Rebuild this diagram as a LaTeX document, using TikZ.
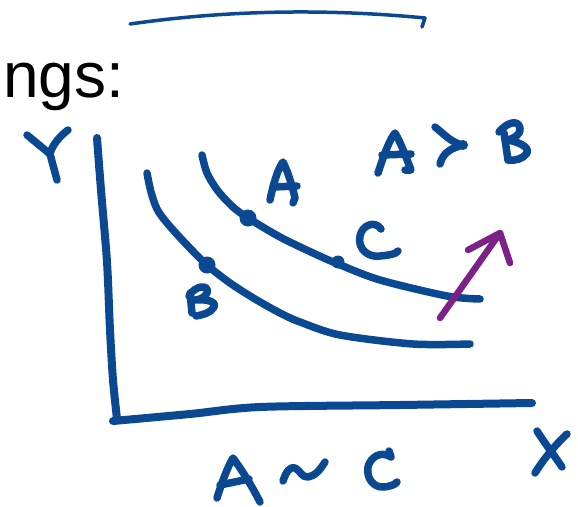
\documentclass[tikz,border=0pt]{standalone}
\usepackage{fontspec}
\setmainfont{Liberation Sans}
\definecolor{inkblue}{RGB}{10,72,145}
\definecolor{inkpurple}{RGB}{125,32,135}
\begin{document}
\begin{tikzpicture}[x=1pt,y=-1pt,
  ink/.style={draw=inkblue,line width=7.5pt,line cap=round,line join=round},
  thinink/.style={draw=inkblue,line width=3.5pt,line cap=round,line join=round},
  purpleink/.style={draw=inkpurple,line width=6.5pt,line cap=round,line join=round},
  dotmark/.style={fill=inkblue}]
\useasboundingbox (0,0) rectangle (578,506);
% header text
\node[anchor=base west,inner sep=0pt,font=\fontsize{64}{70}\selectfont] (title) at (3,97) {ngs:};
% top line
\draw[thinink] (130,24) .. controls (200,14) and (300,6) .. (425,18) -- (422,27);
% axes
\draw[ink,line width=8pt] plot[smooth] coordinates {(97,138) (101,190) (107,262) (110,330) (113,380) (117,419)};
\draw[ink,line width=8pt] plot[smooth] coordinates {(113,421) (190,414) (260,407) (400,405) (532,403)};
% Y label
\draw[ink] (27,135) -- (50,154);
\draw[ink] (68,130) .. controls (60,136) and (52,145) .. (50,154) -- (57,180);
% X label
\draw[ink] (537,431) .. controls (546,445) and (554,455) .. (562,467);
\draw[ink] (567,434) .. controls (555,445) and (543,460) .. (535,473);
% curves
\draw[ink] plot[smooth] coordinates {(202,155) (207,173) (218,191) (233,207) (248,218) (280,237) (313,253) (338,264) (380,280) (447,296) (480,299)};
\draw[ink] plot[smooth] coordinates {(147,173) (151,192) (157,209) (167,223) (186,244) (207,265) (230,283) (255,299) (280,313) (300,322) (340,335) (413,344) (470,344)};
% dots
\fill[dotmark] (248,218) circle (8.5);
\fill[dotmark] (207,265) circle (8.5);
\fill[dotmark] (338,262) circle (6.5);
% label A near upper curve
\draw[ink] (270,200) .. controls (273,185) and (278,168) .. (283,162) .. controls (288,172) and (292,185) .. (295,198) -- (293,203);
\draw[ink] (273,187) -- (297,186);
% label B near lower curve
\draw[ink] (190,293) -- (192,313);
\draw[ink] (189,296) .. controls (195,285) and (210,284) .. (207,293) .. controls (205,298) and (198,300) .. (195,300)
  .. controls (205,299) and (217,301) .. (214,307) .. controls (211,313) and (202,315) .. (196,316);
% label C near upper curve
\draw[ink] (381,229) .. controls (375,220) and (362,225) .. (360,236) .. controls (357,250) and (370,258) .. (380,256) .. controls (390,255) and (396,254) .. (398,251);
% A > B
\draw[ink] (378,173) .. controls (383,158) and (389,140) .. (395,133) .. controls (402,145) and (407,160) .. (411,170) -- (405,170);
\draw[ink] (382,155) -- (411,154);
\draw[ink] (435,127) .. controls (445,135) and (452,143) .. (463,145) .. controls (452,148) and (443,152) .. (440,164);
\fill[dotmark] (463,145) circle (5);
\draw[ink] (504,133) -- (508,160);
\draw[ink] (499,132) .. controls (505,124) and (518,118) .. (520,128) .. controls (521,135) and (513,139) .. (507,140)
  .. controls (515,141) and (530,146) .. (527,153) .. controls (523,159) and (515,161) .. (508,160);
% purple arrow
\draw[purpleink] (440,318) -- (500,233);
\draw[purpleink] (468,250) -- (500,233) -- (510,263);
% A ~ C
\draw[ink] (217,498) .. controls (222,482) and (228,466) .. (233,458) .. controls (242,470) and (253,488) .. (260,502);
\draw[ink] (220,485) -- (249,479);
\draw[ink] (283,481) .. controls (286,472) and (290,466) .. (295,468) .. controls (300,470) and (302,478) .. (308,477) .. controls (315,476) and (320,470) .. (325,462);
\draw[ink] (389,451) -- (391,457) .. controls (380,450) and (370,458) .. (368,467) .. controls (366,480) and (375,487) .. (382,487) .. controls (390,487) and (396,484) .. (397,482);
\end{tikzpicture}
\end{document}
